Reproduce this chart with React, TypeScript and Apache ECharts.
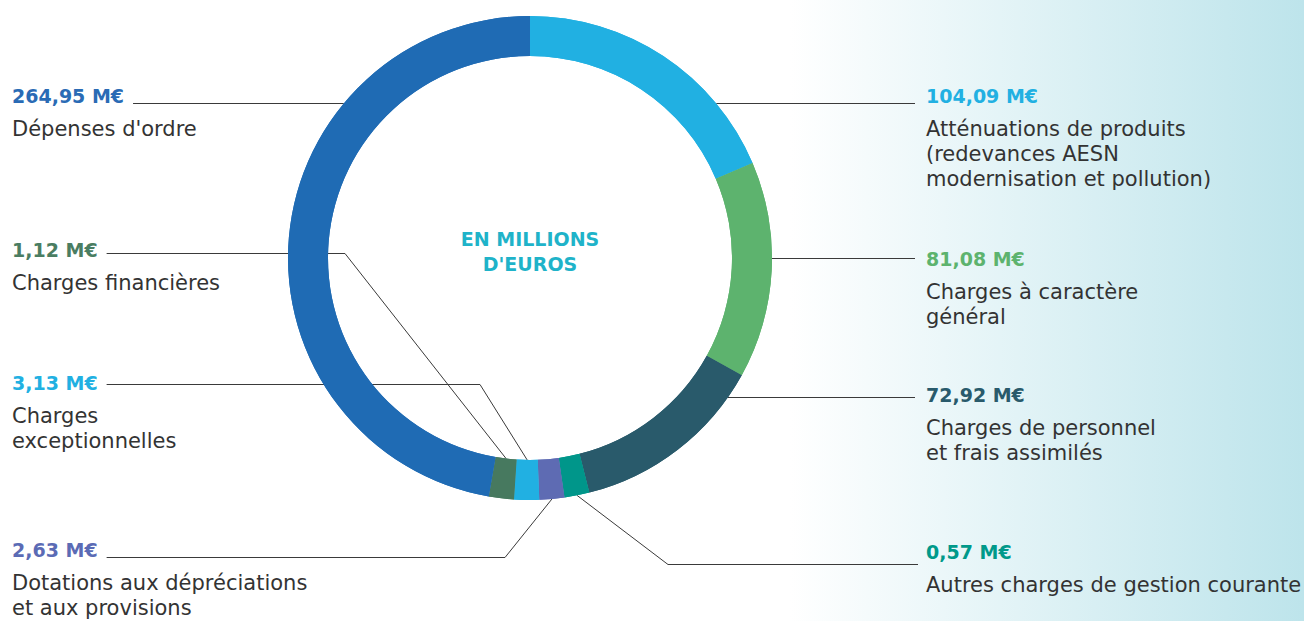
import React, { useEffect, useRef } from "react";
import * as echarts from "echarts";

// ---- Data ----
const categories = [
  "Atténuations de produits\n(redevances AESN\nmodernisation et pollution)",
  "Charges à caractère\ngénéral",
  "Charges de personnel\net frais assimilés",
  "Autres charges de gestion courante",
  "Dotations aux dépréciations\net aux provisions",
  "Charges\nexceptionnelles",
  "Charges financières",
  "Dépenses d'ordre",
];
const values = [104.09, 81.08, 72.92, 0.57, 2.63, 3.13, 1.12, 264.95];
const sliceColors = ["#21b0e2", "#5db36e", "#295a6b", "#00968a", "#5e6bb3", "#21b0e2", "#47795f", "#1f6bb4"];
const valueColors = ["#21b0e2", "#5db36e", "#295a6b", "#00998a", "#5b6bb5", "#21b0e2", "#4a7d62", "#2a6bb5"];
const centerTitle = "EN MILLIONS\nD'EUROS";

// ---- Layout (positions of annotations) ----
const FONT = "'DejaVu Sans', sans-serif";
const CX = 530, CY = 258, R_IN = 202, R_OUT = 242;
const LEFT_X = 12, RIGHT_X = 926;

type Place = { side: "left" | "right"; valueY: number; lineY: number; anchor: "level" | "outer" | "inner"; elbowX?: number; endX?: number };
const labelPlaces: Place[] = [
  { side: "right", valueY: 96, lineY: 103.5, anchor: "level" },
  { side: "right", valueY: 259, lineY: 258.5, anchor: "level" },
  { side: "right", valueY: 395, lineY: 397.5, anchor: "level" },
  { side: "right", valueY: 552, lineY: 564.5, anchor: "outer", elbowX: 668, endX: 918 },
  { side: "left", valueY: 550, lineY: 557.5, anchor: "outer", elbowX: 505 },
  { side: "left", valueY: 383, lineY: 384.5, anchor: "inner", elbowX: 480 },
  { side: "left", valueY: 250, lineY: 253.5, anchor: "inner", elbowX: 345 },
  { side: "left", valueY: 96, lineY: 103.5, anchor: "level" },
];

function formatValue(v: number) {
  return v.toFixed(2).replace(".", ",") + " M€";
}

let measureCtx: CanvasRenderingContext2D | null = null;
function valueWidth(text: string) {
  if (!measureCtx) measureCtx = document.createElement("canvas").getContext("2d");
  if (!measureCtx) return text.length * 12;
  measureCtx.font = "bold 19px 'DejaVu Sans'";
  return measureCtx.measureText(text).width;
}

export default function App() {
  const ref = useRef<HTMLDivElement>(null);
  useEffect(() => {
    const chart = echarts.init(ref.current!, undefined, { renderer: "svg" });
    const rich: any = {
      n: { fontFamily: FONT, fontSize: 21, lineHeight: 25, color: "#333333" },
    };
    valueColors.forEach((c, i) => {
      rich["v" + i] = { fontFamily: FONT, fontSize: 19, fontWeight: "bold", lineHeight: 41, color: c };
    });
    const data = categories.map((name, i) => ({ name, value: values[i], itemStyle: { color: sliceColors[i] } }));

    const labelLayout = (p: any) => {
      const L = labelPlaces[p.dataIndex];
      const pts = p.labelLinePoints;
      const x = L.side === "left" ? LEFT_X : RIGHT_X;
      let ring: number[];
      if (L.anchor === "level" || !pts) {
        const dy = L.lineY - CY;
        const dx = Math.sqrt(Math.max(0, R_OUT * R_OUT - dy * dy));
        ring = [CX + (L.side === "left" ? -dx : dx), L.lineY];
      } else {
        const vx = pts[0][0] - CX, vy = pts[0][1] - CY;
        const len = Math.hypot(vx, vy) || 1;
        const r = L.anchor === "inner" ? R_IN : R_OUT;
        ring = [CX + (vx / len) * r, CY + (vy / len) * r];
      }
      const endX =
        L.side === "left"
          ? LEFT_X + valueWidth(formatValue(values[p.dataIndex])) + 9
          : L.endX ?? RIGHT_X - 11;
      const end = [endX, L.lineY];
      const points = L.elbowX != null ? [ring, [L.elbowX, L.lineY], end] : [ring, end];
      return { x, y: L.valueY - 20.5, align: "left", verticalAlign: "top", labelLinePoints: points };
    };

    const option: any = {
      animation: false,
      graphic: [
        {
          type: "rect",
          z: 0,
          shape: { x: 790, y: 0, width: 514, height: 621 },
          style: {
            fill: new echarts.graphic.LinearGradient(0, 0, 1, 0, [
              { offset: 0, color: "#ffffff" },
              { offset: 1, color: "#bde4eb" },
            ]),
          },
        },
        {
          type: "text",
          z: 10,
          x: CX,
          y: 251,
          style: {
            text: centerTitle,
            fill: "#1fb3c9",
            fontFamily: FONT,
            fontSize: 19,
            fontWeight: "bold",
            lineHeight: 25,
            textAlign: "center",
            textVerticalAlign: "middle",
          },
        },
      ],
      series: [
        {
          type: "pie",
          z: 2,
          center: [CX, CY],
          radius: [R_IN, R_OUT],
          startAngle: 90,
          clockwise: true,
          minAngle: 6,
          avoidLabelOverlap: false,
          data,
          emphasis: { disabled: true },
          label: {
            show: true,
            position: "outside",
            formatter: (p: any) =>
              `{v${p.dataIndex}|${formatValue(p.value)}}\n` +
              String(p.name)
                .split("\n")
                .map((s) => `{n|${s}}`)
                .join("\n"),
            rich,
          },
          labelLine: { show: true, length: 10, length2: 10, lineStyle: { color: "#3a3a3a", width: 1 } },
          labelLayout,
        },
        {
          type: "pie",
          z: 3,
          silent: true,
          center: [CX, CY],
          radius: [R_IN, R_OUT],
          startAngle: 90,
          clockwise: true,
          minAngle: 6,
          data,
          emphasis: { disabled: true },
          label: { show: false },
          labelLine: { show: false },
        },
      ],
    };
    chart.setOption(option);
    return () => chart.dispose();
  }, []);
  return <div ref={ref} style={{ position: "absolute", left: 0, top: 0, width: 1304, height: 621 }} />;
}
